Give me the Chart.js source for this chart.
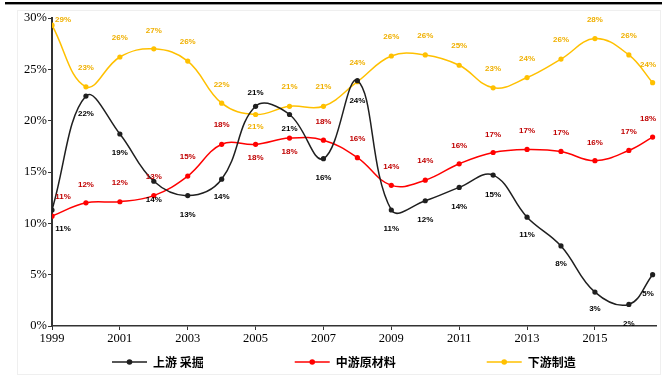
<!DOCTYPE html>
<html>
<head>
<meta charset="utf-8">
<script src="https://cdn.jsdelivr.net/npm/chart.js@4/dist/chart.umd.min.js"></script>
<style>
  html, body { margin: 0; padding: 0; background: #fff; }
  #wrap { width: 667px; height: 378px; position: relative; }
</style>
</head>
<body>
<div id="wrap"><canvas id="chart"></canvas></div>
<script>
// 年份（最后一点为年内数据）
const years = [1999, 2000, 2001, 2002, 2003, 2004, 2005, 2006, 2007, 2008,
  2009, 2010, 2011, 2012, 2013, 2014, 2015, 2016, 2016.7];
const tickYears = [1999, 2001, 2003, 2005, 2007, 2009, 2011, 2013, 2015];

const seriesNames = ["上游 采掘", "中游原材料", "下游制造"];
const upstream = [11.3, 22.4, 18.7, 14.1, 12.7, 14.3, 21.4, 20.6, 16.3, 23.9,
  11.3, 12.2, 13.5, 14.7, 10.6, 7.8, 3.3, 2.1, 5.0];
const midstream = [10.7, 12.0, 12.1, 12.7, 14.6, 17.7, 17.7, 18.3, 18.1, 16.4,
  13.7, 14.2, 15.8, 16.9, 17.2, 17.0, 16.1, 17.1, 18.4];
const downstream = [29.3, 23.3, 26.2, 27.0, 25.8, 21.7, 20.6, 21.4, 21.4, 23.8,
  26.3, 26.4, 25.4, 23.2, 24.2, 26.0, 28.0, 26.4, 23.7];

// 数据标签上下偏移（像素）
const upDy = [19, 18, 19, 19, 19, 18, -13, 14, 19, 20, 19, 19, 19, 20, 18, 18, 17, 19, 19];
const midDy = [-19, -18, -19, -19, -19, -19, 14, 14, -18, -19, -19, -19, -18, -18, -19, -19, -18, -19, -18];
const downDy = [-19, -19, -19, -18, -19, -18, 12, -19, -19, -19, -19, -19, -19, -19, -19, -19, -19, -19, -18];

const colors = ["#1f1f1f", "#ff0000", "#ffc000"];
const labelColors = ["#000000", "#c00000", "#f0b000"];
const labelDy = [upDy, midDy, downDy];

function toPoints(vals) {
  return vals.map((v, i) => ({ x: years[i], y: v }));
}

const frame = {
  id: "frame",
  beforeDraw(chart) {
    const ctx = chart.ctx;
    ctx.save();
    ctx.fillStyle = "#fff";
    ctx.fillRect(0, 0, chart.width, chart.height);
    ctx.strokeStyle = "#efefef";
    ctx.lineWidth = 1;
    ctx.strokeRect(17.5, 10.5, 643, 364);
    ctx.fillStyle = "#000";
    ctx.fillRect(5, 2, 657, 2.4);
    ctx.restore();
  }
};

const valueLabels = {
  id: "valueLabels",
  afterDatasetsDraw(chart) {
    const ctx = chart.ctx;
    const area = chart.chartArea;
    ctx.save();
    ctx.font = "bold 8px 'Liberation Sans', Arial, sans-serif";
    ctx.textAlign = "center";
    ctx.textBaseline = "middle";
    chart.data.datasets.forEach((ds, i) => {
      const meta = chart.getDatasetMeta(i);
      ctx.fillStyle = labelColors[i];
      meta.data.forEach((el, j) => {
        let x = Math.min(Math.max(el.x, area.left + 11), area.right - 8);
        let y = Math.max(el.y + labelDy[i][j], area.top + 2);
        ctx.fillText(Math.round(ds.data[j].y) + "%", x, y);
      });
    });
    ctx.restore();
  }
};

const bottomLegend = {
  id: "bottomLegend",
  afterDraw(chart) {
    const ctx = chart.ctx;
    ctx.save();
    ctx.font = "bold 12px 'Noto Sans CJK SC', sans-serif";
    ctx.textBaseline = "middle";
    let x = 112;
    const y = 362;
    chart.data.datasets.forEach((ds, i) => {
      ctx.strokeStyle = colors[i];
      ctx.lineWidth = 1.5;
      ctx.beginPath();
      ctx.moveTo(x, y);
      ctx.lineTo(x + 35, y);
      ctx.stroke();
      ctx.fillStyle = colors[i];
      ctx.beginPath();
      ctx.arc(x + 17.5, y, 2.8, 0, Math.PI * 2);
      ctx.fill();
      ctx.fillStyle = "#000";
      ctx.fillText(ds.label, x + 41, y);
      x += 41 + ctx.measureText(ds.label).width + 91;
    });
    ctx.restore();
  }
};

const makeSet = (label, vals, i) => ({
  label: label,
  data: toPoints(vals),
  borderColor: colors[i],
  backgroundColor: colors[i],
  borderWidth: 1.5,
  pointRadius: 2.6,
  pointBorderWidth: 0,
  pointBackgroundColor: colors[i],
  tension: 0.4,
  fill: false
});

new Chart(document.getElementById("chart"), {
  type: "line",
  data: {
    datasets: [
      makeSet(seriesNames[0], upstream, 0),
      makeSet(seriesNames[1], midstream, 1),
      makeSet(seriesNames[2], downstream, 2)
    ]
  },
  plugins: [frame, valueLabels, bottomLegend],
  options: {
    responsive: true,
    maintainAspectRatio: false,
    animation: false,
    layout: { padding: { left: 0, right: 11, top: 18, bottom: 30 } },
    plugins: {
      legend: { display: false },
      tooltip: { enabled: false }
    },
    scales: {
      x: {
        type: "linear",
        min: 1999,
        max: 2016.8,
        afterBuildTicks(scale) {
          scale.ticks = tickYears.map((v) => ({ value: v }));
        },
        afterFit(scale) {
          scale.height = 22;
        },
        ticks: {
          callback: (v) => String(v),
          color: "#000",
          padding: 1,
          maxRotation: 0,
          font: { family: "'Liberation Serif', 'Times New Roman', serif", size: 12.5 }
        },
        grid: { drawOnChartArea: false, drawTicks: true, tickLength: 4, color: "#333" },
        border: { display: true, color: "#333", width: 1.5 }
      },
      y: {
        min: 0,
        max: 30,
        afterFit(scale) {
          scale.width = 52;
        },
        ticks: {
          stepSize: 5,
          callback: (v) => v + "%",
          color: "#000",
          padding: 1,
          font: { family: "'Liberation Serif', 'Times New Roman', serif", size: 12.5 }
        },
        grid: { drawOnChartArea: false, drawTicks: true, tickLength: 4, color: "#333" },
        border: { display: true, color: "#333", width: 2 }
      }
    }
  }
});
</script>
</body>
</html>
